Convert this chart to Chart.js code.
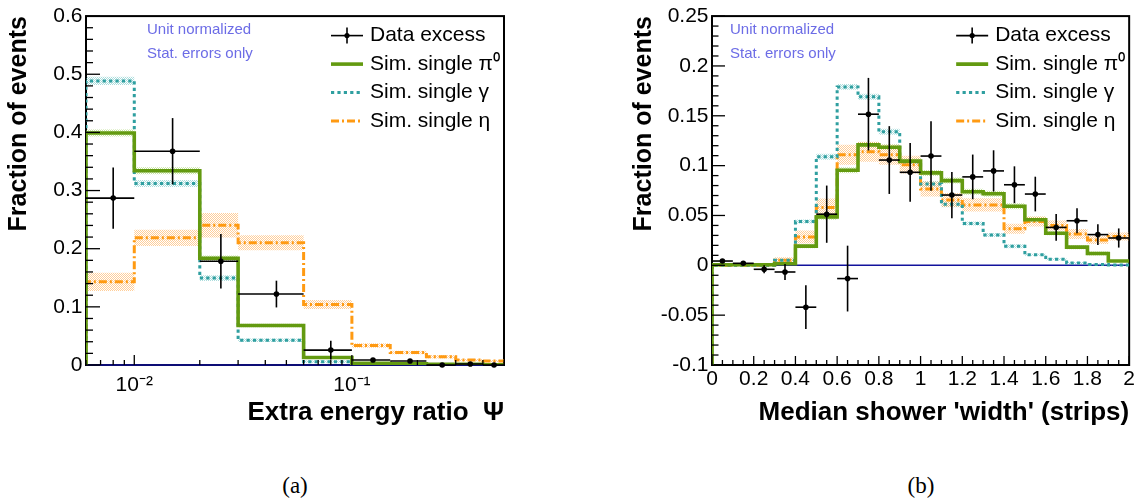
<!DOCTYPE html>
<html><head><meta charset="utf-8">
<script src="https://cdn.jsdelivr.net/npm/chart.js@4.4.1/dist/chart.umd.min.js"></script>
<style>
html,body{margin:0;padding:0;background:#fff;}
#wrap{position:relative;width:1137px;height:504px;overflow:hidden;background:#fff;}
#c1{position:absolute;left:0;top:0;width:560px;height:450px;}
#c2{position:absolute;left:600px;top:0;width:537px;height:450px;}
.cap{position:absolute;top:473px;width:60px;text-align:center;font-family:"Liberation Serif","DejaVu Serif",serif;font-size:23px;line-height:26px;color:#000;}
</style></head><body>
<div id="wrap">
<canvas id="c1" width="560" height="450"></canvas>
<canvas id="c2" width="537" height="450"></canvas>
<div class="cap" style="left:265px">(a)</div>
<div class="cap" style="left:891px">(b)</div>
</div>
<script>
// ---------------- data: panel (a) extra energy ratio ----------------
const psiEdges = [0.006, 0.01, 0.02, 0.03, 0.06, 0.1, 0.15, 0.22, 0.3, 0.4, 0.5];
const psiPi0 = [0.399, 0.334, 0.1835, 0.068, 0.013, 0.003, 0.002, 0.001, 0.001, 0.0005];
const psiPi0Err = [0.006, 0.006, 0.005, 0.003, 0.002, 0.001, 0.001, 0.001, 0.001, 0.001];
const psiGamma = [0.4886, 0.312, 0.1494, 0.0426, 0.0057, 0.001, 0.0005, 0, 0, 0];
const psiGammaErr = [0.007, 0.006, 0.005, 0.003, 0.002, 0.001, 0.001, 0, 0, 0];
const psiEta = [0.143, 0.2187, 0.2403, 0.2102, 0.104, 0.0335, 0.0216, 0.0142, 0.0085, 0.0068];
const psiEtaErr = [0.0156, 0.014, 0.021, 0.013, 0.0077, 0.004, 0.003, 0.003, 0.002, 0.002];
const psiDataX = [0.008, 0.015, 0.025, 0.045, 0.08, 0.125, 0.185, 0.26, 0.35, 0.45];
const psiData = [0.287, 0.3676, 0.1784, 0.122, 0.0256, 0.0085, 0.0068, 0.0, 0.0017, 0.0];
const psiDataErr = [0.0526, 0.057, 0.047, 0.023, 0.016, 0.003, 0.003, 0.002, 0.002, 0.002];
const psiXMajor = [0.01, 0.1];
const psiXLabels = ['10\u207B\u00B2', '10\u207B\u00B9'];
const psiXMinor = [0.006, 0.007, 0.008, 0.009, 0.02, 0.03, 0.04, 0.05, 0.06, 0.07, 0.08, 0.09, 0.2, 0.3, 0.4, 0.5];
const psiYMajor = [0, 0.1, 0.2, 0.3, 0.4, 0.5, 0.6];
const psiYLabels = ['0', '0.1', '0.2', '0.3', '0.4', '0.5', '0.6'];
const psiYMinorStep = 0.02;

// ---------------- data: panel (b) median shower width ----------------
const widthEdges = [0, 0.1, 0.2, 0.3, 0.4, 0.5, 0.6, 0.7, 0.8, 0.9, 1.0, 1.1, 1.2, 1.3, 1.4, 1.5, 1.6, 1.7, 1.8, 1.9, 2.0];
const widthPi0 = [0.0005, 0.0005, 0.0005, 0.0016, 0.0192, 0.0486, 0.0953, 0.1208, 0.1185, 0.1045, 0.0927, 0.085, 0.0738, 0.0718, 0.0592, 0.0457, 0.0321, 0.0182, 0.0119, 0.0043];
const widthPi0Err = [0.001, 0.001, 0.001, 0.001, 0.002, 0.003, 0.003, 0.003, 0.003, 0.003, 0.003, 0.003, 0.003, 0.003, 0.003, 0.003, 0.002, 0.002, 0.002, 0.001];
const widthGamma = [0, 0, 0, 0.005, 0.044, 0.109, 0.179, 0.169, 0.134, 0.104, 0.0815, 0.0612, 0.042, 0.0304, 0.0192, 0.0106, 0.006, 0.0023, 0.0007, 0.0002];
const widthGammaErr = [0, 0, 0, 0.001, 0.002, 0.003, 0.003, 0.003, 0.003, 0.003, 0.003, 0.003, 0.002, 0.002, 0.002, 0.001, 0.001, 0.001, 0.001, 0.001];
const widthEta = [0, 0, 0, 0.005, 0.0284, 0.058, 0.111, 0.114, 0.111, 0.101, 0.0765, 0.0655, 0.0606, 0.0606, 0.0367, 0.044, 0.040, 0.0314, 0.0255, 0.0288];
const widthEtaErr = [0.001, 0.001, 0.001, 0.003, 0.0066, 0.009, 0.01, 0.01, 0.01, 0.009, 0.0075, 0.007, 0.0066, 0.0066, 0.005, 0.005, 0.005, 0.005, 0.004, 0.004];
const widthDataX = [0.05, 0.15, 0.25, 0.35, 0.45, 0.55, 0.65, 0.75, 0.85, 0.95, 1.05, 1.15, 1.25, 1.35, 1.45, 1.55, 1.65, 1.75, 1.85, 1.95];
const widthData = [0.0043, 0.002, -0.004, -0.0067, -0.042, 0.0513, -0.0133, 0.1516, 0.1056, 0.0933, 0.1096, 0.0705, 0.0887, 0.0947, 0.0808, 0.0715, 0.038, 0.0447, 0.0308, 0.0274];
const widthDataErr = [0.002, 0.002, 0.004, 0.008, 0.022, 0.0287, 0.033, 0.0364, 0.034, 0.0295, 0.0348, 0.0232, 0.0224, 0.0207, 0.0185, 0.0174, 0.0134, 0.0126, 0.0103, 0.0096];
const widthXMajor = [0, 0.2, 0.4, 0.6, 0.8, 1.0, 1.2, 1.4, 1.6, 1.8, 2.0];
const widthXLabels = ['0', '0.2', '0.4', '0.6', '0.8', '1', '1.2', '1.4', '1.6', '1.8', '2'];
const widthXMinorStep = 0.05;
const widthYMajor = [-0.1, -0.05, 0, 0.05, 0.1, 0.15, 0.2, 0.25];
const widthYLabels = ['-0.1', '-0.05', '0', '0.05', '0.1', '0.15', '0.2', '0.25'];
const widthYMinorStep = 0.01;

const legendLabels = ['Data excess', 'Sim. single \u03C0\u2070', 'Sim. single \u03B3', 'Sim. single \u03B7'];
const noteLines = ['Unit normalized', 'Stat. errors only'];

// ---------------- styling ----------------
const FONT = '"Liberation Sans", Arial, Helvetica, sans-serif';
Chart.defaults.font.family = FONT;
Chart.defaults.color = '#000';
const GREEN = '#639a10', CYAN = '#2f9fa0', ORANGE = '#ff9a12', NOTE = '#6c6ce6', ZERO = '#12129c';
const DOT = [3.2, 3.2], DASHDOT = [8, 3, 2, 3];

function pattern(rgba) {
  const c = document.createElement('canvas'); c.width = 2; c.height = 2;
  const g = c.getContext('2d'); g.fillStyle = rgba; g.fillRect(0, 0, 1, 1); g.fillRect(1, 1, 1, 1);
  return g.createPattern(c, 'repeat');
}
function histPoints(edges, vals, base) {
  const pts = [{x: edges[0], y: base}];
  vals.forEach((v, i) => pts.push({x: edges[i], y: v}));
  pts.push({x: edges[edges.length - 1], y: vals[vals.length - 1]});
  return pts;
}
function bandPoints(edges, vals, errs, sign) {
  const pts = vals.map((v, i) => ({x: edges[i], y: v + sign * errs[i]}));
  pts.push({x: edges[edges.length - 1], y: vals[vals.length - 1] + sign * errs[errs.length - 1]});
  return pts;
}
function minorList(majors, step) {
  const out = [];
  for (let i = 0; i < majors.length - 1; i++) {
    for (let v = majors[i] + step; v < majors[i + 1] - step / 2; v += step) out.push(v);
  }
  return out;
}
function histDS(edges, vals, base, color, dash, w) {
  return {data: histPoints(edges, vals, base), stepped: 'before', borderColor: color, borderWidth: w,
    borderDash: dash, pointRadius: 0, fill: false, borderCapStyle: 'butt', borderJoinStyle: 'miter'};
}
function bandDS(edges, vals, errs, fillPattern) {
  return [
    {data: bandPoints(edges, vals, errs, 1), stepped: 'before', borderWidth: 0, pointRadius: 0, fill: false, borderColor: 'rgba(0,0,0,0)'},
    {data: bandPoints(edges, vals, errs, -1), stepped: 'before', borderWidth: 0, pointRadius: 0, fill: '-1', borderColor: 'rgba(0,0,0,0)', backgroundColor: fillPattern}
  ];
}

function rootPlugin(cfg) {
  return {
    id: 'rootStyle',
    beforeDatasetsDraw(chart) {
      const {ctx, chartArea: a} = chart;
      ctx.save();
      ctx.strokeStyle = '#000'; ctx.lineWidth = 2;
      ctx.strokeRect(a.left, a.top, a.right - a.left, a.bottom - a.top);
      const y0 = chart.scales.y.getPixelForValue(0);
      ctx.strokeStyle = ZERO; ctx.lineWidth = 1.4;
      ctx.beginPath(); ctx.moveTo(a.left, y0); ctx.lineTo(a.right, y0); ctx.stroke();
      ctx.restore();
    },
    afterDatasetsDraw(chart) {
      const {ctx, chartArea: a} = chart;
      const xs = chart.scales.x, ys = chart.scales.y;
      ctx.save();
      ctx.strokeStyle = '#000'; ctx.lineWidth = 1.3;
      const seg = (x1, y1, x2, y2) => { ctx.beginPath(); ctx.moveTo(x1, y1); ctx.lineTo(x2, y2); ctx.stroke(); };
      cfg.xMajor.forEach(v => { const p = xs.getPixelForValue(v); seg(p, a.bottom, p, a.bottom - cfg.xLen[0]); });
      cfg.xMinor.forEach(v => { const p = xs.getPixelForValue(v); seg(p, a.bottom, p, a.bottom - cfg.xLen[1]); });
      cfg.yMajor.forEach(v => { const p = ys.getPixelForValue(v); seg(a.left, p, a.left + cfg.yLen[0], p); });
      cfg.yMinor.forEach(v => { const p = ys.getPixelForValue(v); seg(a.left, p, a.left + cfg.yLen[1], p); });
      // data error bars
      ctx.lineWidth = 1.6; ctx.strokeStyle = '#000';
      cfg.dataX.forEach((xv, i) => {
        const px = xs.getPixelForValue(xv), py = ys.getPixelForValue(cfg.dataY[i]);
        const lo = xs.getPixelForValue(cfg.edges[i]), hi = xs.getPixelForValue(cfg.edges[i + 1]);
        const t = ys.getPixelForValue(cfg.dataY[i] + cfg.dataErr[i]), b = ys.getPixelForValue(cfg.dataY[i] - cfg.dataErr[i]);
        seg(lo, py, hi, py); seg(px, t, px, b);
      });
      ctx.restore();
    },
    afterDraw(chart) {
      const {ctx, chartArea: a} = chart;
      ctx.save();
      // notes
      ctx.fillStyle = NOTE; ctx.font = '15px ' + FONT; ctx.textBaseline = 'middle'; ctx.textAlign = 'left';
      noteLines.forEach((t, i) => ctx.fillText(t, a.left + cfg.noteDx, a.top + 14 + i * 24));
      // legend
      const sx0 = a.right - 173, sx1 = a.right - 141, tx = a.right - 134;
      const rows = [19.5, 48, 76.5, 105].map(r => a.top + r);
      const line = (y, color, w, dash) => { ctx.save(); ctx.strokeStyle = color; ctx.lineWidth = w; ctx.setLineDash(dash);
        ctx.beginPath(); ctx.moveTo(sx0, y); ctx.lineTo(sx1, y); ctx.stroke(); ctx.restore(); };
      line(rows[0], '#000', 1.6, []);
      ctx.strokeStyle = '#000'; ctx.lineWidth = 1.6; ctx.beginPath();
      ctx.moveTo((sx0 + sx1) / 2, rows[0] - 8); ctx.lineTo((sx0 + sx1) / 2, rows[0] + 8); ctx.stroke();
      ctx.fillStyle = '#000'; ctx.beginPath(); ctx.arc((sx0 + sx1) / 2, rows[0], 2.6, 0, Math.PI * 2); ctx.fill();
      line(rows[1], GREEN, 3.6, []);
      line(rows[2], CYAN, 3, DOT);
      line(rows[3], ORANGE, 3, DASHDOT);
      ctx.fillStyle = '#000'; ctx.font = '21px ' + FONT; ctx.textBaseline = 'middle'; ctx.textAlign = 'left';
      legendLabels.forEach((t, i) => ctx.fillText(t, tx, rows[i]));
      ctx.restore();
    }
  };
}

function makeChart(id, p) {
  const yMin = p.yMajor[0];
  const datasets = [
    {data: p.dataX.map((x, i) => ({x: x, y: p.dataY[i]})), showLine: false, pointRadius: 2.8, pointHoverRadius: 2.8,
      pointBackgroundColor: '#000', pointBorderWidth: 0, borderColor: '#000', clip: false},
    histDS(p.edges, p.pi0, yMin, GREEN, [], 3.6),
    histDS(p.edges, p.gamma, yMin, CYAN, DOT, 3),
    histDS(p.edges, p.eta, yMin, ORANGE, DASHDOT, 3),
    ...bandDS(p.edges, p.eta, p.etaErr, pattern('rgba(255,165,70,0.55)')),
    ...bandDS(p.edges, p.pi0, p.pi0Err, pattern('rgba(140,200,60,0.5)')),
    ...bandDS(p.edges, p.gamma, p.gammaErr, pattern('rgba(70,180,180,0.45)'))
  ];
  return new Chart(document.getElementById(id), {
    type: 'line',
    data: {datasets},
    options: {
      responsive: false, animation: false, events: [],
      layout: {padding: {left: 0, top: 13, right: p.padRight, bottom: 0}},
      plugins: {legend: {display: false}, tooltip: {enabled: false}},
      scales: {
        x: {
          type: p.xType, min: p.xMin, max: p.xMax,
          afterBuildTicks: s => { s.ticks = p.xMajor.map(v => ({value: v})); },
          ticks: {autoSkip: false, maxRotation: 0, minRotation: 0, padding: p.xTickPad, font: {size: 21},
            callback: (v, i) => p.xLabels[i]},
          grid: {display: false, drawTicks: false}, border: {display: false},
          title: {display: true, text: p.xTitle, align: 'end', font: {size: 26, weight: 'bold'}, padding: {top: 0, bottom: 22}},
          afterFit: s => { s.height = 85; }
        },
        y: {
          type: 'linear', min: p.yMajor[0], max: p.yMajor[p.yMajor.length - 1],
          afterBuildTicks: s => { s.ticks = p.yMajor.map(v => ({value: v})); },
          ticks: {autoSkip: false, padding: 3.5, font: {size: 21}, callback: (v, i) => p.yLabels[i]},
          grid: {display: false, drawTicks: false}, border: {display: false},
          title: {display: true, text: 'Fraction of events', align: 'end', font: {size: 25, weight: 'bold'}, padding: {top: p.yTitlePad, bottom: 0}},
          afterFit: s => { s.width = p.yWidth; }
        }
      }
    },
    plugins: [rootPlugin({
      xMajor: p.xMajor, xMinor: p.xMinor, yMajor: p.yMajor, yMinor: p.yMinor,
      xLen: p.xLen, yLen: p.yLen, edges: p.edges, dataX: p.dataX, dataY: p.dataY, dataErr: p.dataErr, noteDx: p.noteDx
    })]
  });
}

makeChart('c1', {
  xType: 'logarithmic', xMin: 0.006, xMax: 0.5,
  edges: psiEdges, pi0: psiPi0, pi0Err: psiPi0Err, gamma: psiGamma, gammaErr: psiGammaErr, eta: psiEta, etaErr: psiEtaErr,
  dataX: psiDataX, dataY: psiData, dataErr: psiDataErr,
  xMajor: psiXMajor, xLabels: psiXLabels, xMinor: psiXMinor,
  yMajor: psiYMajor, yLabels: psiYLabels, yMinor: minorList(psiYMajor, psiYMinorStep),
  xLen: [10, 5], yLen: [14, 7], xTickPad: 8, xTitle: 'Extra energy ratio  \u03A8',
  yWidth: 86, yTitlePad: 4.5, padRight: 56, noteDx: 61
});
makeChart('c2', {
  xType: 'linear', xMin: 0, xMax: 2,
  edges: widthEdges, pi0: widthPi0, pi0Err: widthPi0Err, gamma: widthGamma, gammaErr: widthGammaErr, eta: widthEta, etaErr: widthEtaErr,
  dataX: widthDataX, dataY: widthData, dataErr: widthDataErr,
  xMajor: widthXMajor, xLabels: widthXLabels, xMinor: minorList(widthXMajor, widthXMinorStep),
  yMajor: widthYMajor, yLabels: widthYLabels, yMinor: minorList(widthYMajor, widthYMinorStep),
  xLen: [9, 5], yLen: [13, 6.5], xTickPad: 2, xTitle: "Median shower 'width' (strips)",
  yWidth: 112, yTitlePad: 29.5, padRight: 7, noteDx: 18
});
</script>
</body></html>
